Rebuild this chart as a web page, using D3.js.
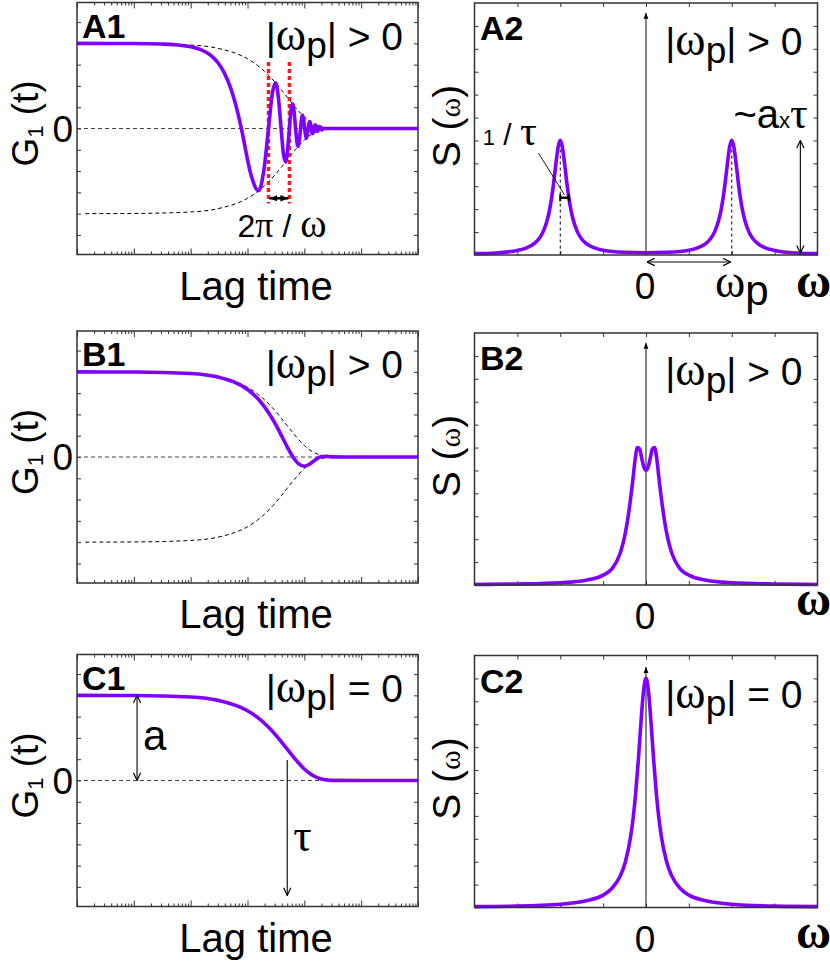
<!DOCTYPE html>
<html lang="en">
<head>
<meta charset="utf-8">
<title>G1(t) and S(w)</title>
<script src="https://d3js.org/d3.v7.min.js"></script>
<style>
  body { margin: 0; background: #fff; }
  svg text { font-family: "Liberation Sans", Arial, sans-serif; fill: #000; white-space: pre; }
  .greek { font-family: "Liberation Serif", "DejaVu Serif", serif; }
  .lbl { font-weight: bold; }
</style>
</head>
<body>
<script>

// ---- data ----
// lag time (log axis, arbitrary units) and G1(t)
var tA1 = [1, 10, 30, 50, 100, 150, 200, 250, 300, 390, 500, 600, 700, 780,
           1170, 1560, 1950, 2340, 2730, 3120, 3510, 3900, 4290, 4680, 5070, 5460,
           5850, 6240, 6630, 7020, 7410, 7800, 8190, 8580, 8970, 9360, 9750, 10140,
           10530, 10920, 11310, 11700, 12090, 12480, 12870, 13260, 13650, 14040, 14430, 14820,
           15210, 15600, 15990, 16380, 16770, 17160, 17550, 17940, 18330, 18720, 19110, 19500,
           19890, 20280, 20670, 21060, 25000, 1e6];
var gA1 = [1, 0.998, 0.992, 0.985, 0.96, 0.926, 0.884, 0.833, 0.775, 0.654, 0.484, 0.315, 0.139, 0,
           -0.559, -0.732, -0.479, 0, 0.409, 0.536, 0.351, 0, -0.300, -0.392, -0.257, 0,
           0.219, 0.287, 0.188, 0, -0.161, -0.210, -0.137, 0, 0.117, 0.154, 0.100, 0,
           -0.086, -0.113, -0.074, 0, 0.063, 0.082, 0.054, 0, -0.046, -0.060, -0.039, 0,
           0.034, 0.044, 0.029, 0, -0.025, -0.032, -0.021, 0, 0.018, 0.024, 0.016, 0,
           -0.012, -0.017, -0.011, 0, 0, 0];

var tB1 = [1, 10, 100, 316, 562, 1000, 1585, 2512, 3162, 3981, 5012, 6310, 7943,
           10000, 12589, 15849, 19953, 25119, 31623, 1e5, 1e6];
var gB1 = [1, 0.998, 0.98, 0.936, 0.885, 0.793, 0.673, 0.491, 0.376, 0.248, 0.117, 0, -0.081,
           -0.108, -0.081, -0.029, 0.005, 0.007, 0.001, 0, 0];

var tC1 = [1, 10, 100, 300, 1000, 1500, 2000, 2500, 3000, 4000, 5000, 6000, 7000, 8000,
           10000, 12500, 15000, 20000, 25000, 30000, 1e5, 1e6];
var gC1 = [1, 0.998, 0.98, 0.942, 0.819, 0.741, 0.67, 0.607, 0.549, 0.449, 0.368, 0.301, 0.247, 0.202,
           0.135, 0.082, 0.05, 0.018, 0.007, 0.002, 0, 0];

// dashed decay envelope (drawn as +/-)
var envT = [1.4, 10, 100, 300, 1000, 1500, 2000, 2500, 3000, 4000, 5000, 6000, 7000, 8000,
            10000, 12500, 15000, 20000, 25000, 30000, 40000];
var envG = [1, 0.998, 0.98, 0.942, 0.819, 0.741, 0.67, 0.607, 0.549, 0.449, 0.368, 0.301, 0.247, 0.202,
            0.135, 0.082, 0.05, 0.018, 0.007, 0.002, 0];

// frequency and S(w)
var wA2 = [-2, -1.75, -1.5, -1.4, -1.3, -1.25, -1.2, -1.15, -1.125, -1.1, -1.075, -1.05, -1.025,
           -1, -0.975, -0.95, -0.925, -0.9, -0.875, -0.85, -0.8, -0.75, -0.7, -0.6, -0.5, -0.25,
           0, 0.25, 0.5, 0.6, 0.7, 0.75, 0.8, 0.85, 0.875, 0.9, 0.925, 0.95, 0.975,
           1, 1.025, 1.05, 1.075, 1.1, 1.125, 1.15, 1.2, 1.25, 1.3, 1.4, 1.5, 1.75, 2];
var sA2 = [0.006, 0.009, 0.020, 0.030, 0.051, 0.070, 0.101, 0.155, 0.196, 0.251, 0.321, 0.401, 0.471,
           0.501, 0.471, 0.401, 0.321, 0.251, 0.196, 0.155, 0.101, 0.070, 0.051, 0.031, 0.021, 0.012,
           0.010, 0.012, 0.021, 0.031, 0.051, 0.070, 0.101, 0.155, 0.196, 0.251, 0.321, 0.401, 0.471,
           0.501, 0.471, 0.401, 0.321, 0.251, 0.196, 0.155, 0.101, 0.070, 0.051, 0.030, 0.020, 0.009, 0.006];

var wB2 = [-2, -1.5, -1, -0.7, -0.5, -0.4, -0.3, -0.25, -0.2, -0.15, -0.125, -0.1, -0.075, -0.05, -0.025,
           0, 0.025, 0.05, 0.075, 0.1, 0.125, 0.15, 0.2, 0.25, 0.3, 0.4, 0.5, 0.7, 1, 1.5, 2];
var sB2 = [0.0025, 0.0045, 0.010, 0.021, 0.043, 0.069, 0.14, 0.21, 0.32, 0.469, 0.553, 0.60, 0.594, 0.554, 0.515,
           0.50, 0.515, 0.554, 0.594, 0.60, 0.553, 0.469, 0.32, 0.21, 0.14, 0.069, 0.043, 0.021, 0.010, 0.0045, 0.0025];

var wC2 = [-2, -1.5, -1, -0.7, -0.5, -0.4, -0.3, -0.24, -0.18, -0.15, -0.12, -0.09, -0.06, -0.03,
           0, 0.03, 0.06, 0.09, 0.12, 0.15, 0.18, 0.24, 0.3, 0.4, 0.5, 0.7, 1, 1.5, 2];
var sC2 = [0.004, 0.006, 0.014, 0.029, 0.054, 0.083, 0.138, 0.2, 0.308, 0.39, 0.5, 0.64, 0.8, 0.941,
           1, 0.941, 0.8, 0.64, 0.5, 0.39, 0.308, 0.2, 0.138, 0.083, 0.054, 0.029, 0.014, 0.006, 0.004];

// axes
var tDomain = [1, 1e6];
var gDomain = [-1.48, 1.48];
var gTicks = [-1.25, -1, -0.75, -0.5, -0.25, 0, 0.25, 0.5, 0.75, 1, 1.25];
var wDomain = [-2, 2];
var sDomain = [0, 1.1];
var wTicks = [-1.5, -1, -0.5, 0, 0.5, 1, 1.5];
var sTicks = [0.1, 0.2, 0.3, 0.4, 0.5, 0.6, 0.7, 0.8, 0.9, 1.0];

// ---- layout ----
var LX = 77, LW = 341, RX = 474.5, RW = 343, PH = 252;
var topL = [2.5, 331, 654.5], topR = [3, 333, 655.5];
var purple = "#7f00ff";

var svg = d3.select("body").append("svg")
    .attr("width", 830)
    .attr("height", 965);

var defs = svg.append("defs");
defs.append("marker").attr("id", "open")
    .attr("viewBox", "0 0 10 10").attr("refX", 9.5).attr("refY", 5)
    .attr("markerWidth", 9).attr("markerHeight", 9)
    .attr("markerUnits", "userSpaceOnUse").attr("orient", "auto-start-reverse")
    .append("path").attr("d", "M1,1 L9.5,5 L1,9")
    .attr("fill", "none").attr("stroke", "#000").attr("stroke-width", 1.3);
defs.append("marker").attr("id", "solid")
    .attr("viewBox", "0 0 10 10").attr("refX", 10).attr("refY", 5)
    .attr("markerWidth", 6).attr("markerHeight", 6)
    .attr("markerUnits", "userSpaceOnUse").attr("orient", "auto-start-reverse")
    .append("path").attr("d", "M0,1 L10,5 L0,9 Z").attr("fill", "#000");
defs.append("marker").attr("id", "solidBig")
    .attr("viewBox", "0 0 10 10").attr("refX", 10).attr("refY", 5)
    .attr("markerWidth", 8).attr("markerHeight", 8)
    .attr("markerUnits", "userSpaceOnUse").attr("orient", "auto-start-reverse")
    .append("path").attr("d", "M0,1 L10,5 L0,9 Z").attr("fill", "#000");

// text with tspans: parts = [text, class, size, dy]
function rich(parent, x, y, parts, anchor, size) {
    var t = parent.append("text")
        .attr("x", x).attr("y", y)
        .attr("text-anchor", anchor || "start")
        .attr("font-size", size);
    parts.forEach(function(p) {
        var s = t.append("tspan").text(p[0]);
        if (p[1]) s.attr("class", p[1]);
        if (p[2]) s.attr("font-size", p[2]);
        if (p[3]) s.attr("dy", p[3]);
    });
    return t;
}

function line(g, x1, y1, x2, y2) {
    return g.append("line")
        .attr("x1", x1).attr("y1", y1).attr("x2", x2).attr("y2", y2)
        .attr("stroke", "#000").attr("stroke-width", 1.1);
}

function noDomain(sel) { sel.select(".domain").remove(); }

function leftPanel(top, name, title, tArr, gArr, withEnv) {
    var x = d3.scaleLog().domain(tDomain).range([LX, LX + LW]);
    var y = d3.scaleLinear().domain(gDomain).range([top + PH, top]);
    var g = svg.append("g");

    var all = x.ticks();
    var major = all.filter(function(d) { return Math.abs(Math.log10(d) % 1) < 1e-9; });
    var minor = all.filter(function(d) { return major.indexOf(d) < 0; });

    [[d3.axisBottom, top + PH], [d3.axisTop, top]].forEach(function(a) {
        g.append("g").attr("transform", "translate(0," + a[1] + ")").attr("color", "#333")
            .call(a[0](x).tickValues(major).tickSize(-6).tickFormat("")).call(noDomain);
        g.append("g").attr("transform", "translate(0," + a[1] + ")").attr("color", "#333")
            .call(a[0](x).tickValues(minor).tickSize(-3).tickFormat("")).call(noDomain);
    });
    g.append("g").attr("transform", "translate(" + LX + ",0)").attr("color", "#333")
        .call(d3.axisLeft(y).tickValues(gTicks).tickSize(-4).tickFormat("")).call(noDomain);
    g.append("g").attr("transform", "translate(" + (LX + LW) + ",0)").attr("color", "#333")
        .call(d3.axisRight(y).tickValues(gTicks).tickSize(-4).tickFormat("")).call(noDomain);

    // zero line
    g.append("line")
        .attr("x1", LX).attr("x2", LX + LW).attr("y1", y(0)).attr("y2", y(0))
        .attr("stroke", "#444").attr("stroke-width", 1).attr("stroke-dasharray", "4,3");

    var path = d3.line()
        .x(function(d) { return x(d[0]); })
        .y(function(d) { return y(d[1]); })
        .curve(d3.curveMonotoneX);

    if (withEnv) {
        [1, -1].forEach(function(s) {
            g.append("path")
                .datum(d3.zip(envT, envG.map(function(v) { return s * v; })))
                .attr("d", path)
                .attr("fill", "none").attr("stroke", "#000").attr("stroke-width", 1)
                .attr("stroke-dasharray", "4,3");
        });
    }

    var layer = g.append("g");

    g.append("path")
        .datum(d3.zip(tArr, gArr))
        .attr("d", path)
        .attr("fill", "none").attr("stroke", purple).attr("stroke-width", 3.6)
        .attr("stroke-linejoin", "round");

    g.append("rect")
        .attr("x", LX).attr("y", top).attr("width", LW).attr("height", PH)
        .attr("fill", "none").attr("stroke", "#333").attr("stroke-width", 1.5);

    g.append("text").attr("class", "lbl").attr("x", 82).attr("y", top + 35)
        .attr("font-size", 34).text(name);
    rich(g, LX + LW - 15, top + 47, title, "end", 39);

    g.append("text").attr("x", 73).attr("y", y(0)).attr("dy", "0.36em")
        .attr("text-anchor", "end").attr("font-size", 37).text("0");
    rich(g.append("g").attr("transform", "translate(38," + (top + 121) + ") rotate(-90)"),
        0, 0, [["G"], ["1", null, 22, 5], [" (t)", null, null, -5]], "middle", 37);
    g.append("text").attr("x", 256).attr("y", top + PH + 45)
        .attr("text-anchor", "middle").attr("font-size", 40).text("Lag time");

    return { g: g, layer: layer, x: x, y: y };
}

function rightPanel(top, name, title, wArr, sArr, arrowTop, omegaY) {
    var x = d3.scaleLinear().domain(wDomain).range([RX, RX + RW]);
    var y = d3.scaleLinear().domain(sDomain).range([top + PH, top]);
    var g = svg.append("g");

    g.append("g").attr("transform", "translate(0," + (top + PH) + ")").attr("color", "#333")
        .call(d3.axisBottom(x).tickValues(wTicks).tickSize(-4).tickFormat("")).call(noDomain);
    g.append("g").attr("transform", "translate(0," + top + ")").attr("color", "#333")
        .call(d3.axisTop(x).tickValues(wTicks).tickSize(-4).tickFormat("")).call(noDomain);
    g.append("g").attr("transform", "translate(" + RX + ",0)").attr("color", "#333")
        .call(d3.axisLeft(y).tickValues(sTicks).tickSize(-4).tickFormat("")).call(noDomain);
    g.append("g").attr("transform", "translate(" + (RX + RW) + ",0)").attr("color", "#333")
        .call(d3.axisRight(y).tickValues(sTicks).tickSize(-4).tickFormat("")).call(noDomain);

    // vertical arrow at w = 0
    g.append("line")
        .attr("x1", x(0)).attr("x2", x(0)).attr("y1", y(0)).attr("y2", y(arrowTop))
        .attr("stroke", "#222").attr("stroke-width", 1.1)
        .attr("marker-end", "url(#solid)");

    var layer = g.append("g");

    var path = d3.line()
        .x(function(d) { return x(d[0]); })
        .y(function(d) { return y(d[1]); })
        .curve(d3.curveMonotoneX);

    g.append("path")
        .datum(d3.zip(wArr, sArr))
        .attr("d", path)
        .attr("fill", "none").attr("stroke", purple).attr("stroke-width", 3.6)
        .attr("stroke-linejoin", "round");

    g.append("rect")
        .attr("x", RX).attr("y", top).attr("width", RW).attr("height", PH)
        .attr("fill", "none").attr("stroke", "#333").attr("stroke-width", 1.5);

    g.append("text").attr("class", "lbl").attr("x", 480).attr("y", top + 37)
        .attr("font-size", 34).text(name);
    rich(g, RX + RW - 15, top + 52, title, "end", 39);

    rich(g.append("g").attr("transform", "translate(460," + (top + 123) + ") rotate(-90)"),
        0, 0, [["S ("], ["ω", "greek", 30], [")"]], "middle", 39);

    g.append("text").attr("x", x(0) - 1).attr("y", top + PH + 44)
        .attr("text-anchor", "middle").attr("font-size", 37).text("0");
    g.append("text").attr("class", "greek").attr("x", 796).attr("y", omegaY)
        .attr("font-size", 48).attr("font-weight", "bold").text("ω");

    return { g: g, layer: layer, x: x, y: y };
}

var titleGt = [["|"], ["ω", "greek", 46], ["p", null, 37, 8], ["| > 0", null, null, -8]];
var titleEq = [["|"], ["ω", "greek", 46], ["p", null, 37, 8], ["| = 0", null, null, -8]];

// ---- row A ----
var a1 = leftPanel(topL[0], "A1", titleGt, tA1, gA1, true);
// period markers (zero crossings one period apart)
[2340, 5460].forEach(function(t) {
    a1.layer.append("line")
        .attr("x1", a1.x(t)).attr("x2", a1.x(t))
        .attr("y1", a1.y(0.78)).attr("y2", a1.y(-0.88))
        .attr("stroke", "#ff1a1a").attr("stroke-width", 3.5).attr("stroke-dasharray", "4,3");
});
line(a1.g, a1.x(2340) + 1, a1.y(-0.82), a1.x(5460) - 1, a1.y(-0.82))
    .attr("stroke-width", 2.5)
    .attr("marker-start", "url(#solidBig)").attr("marker-end", "url(#solidBig)");
rich(a1.g, 282, 237, [["2"], ["π", "greek", 36], [" / "], ["ω", "greek", 40]], "middle", 32);

var a2 = rightPanel(topR[0], "A2", titleGt, wA2, sA2, 1.057, 297);
[-1, 1].forEach(function(w) {
    a2.layer.append("line")
        .attr("x1", a2.x(w)).attr("x2", a2.x(w)).attr("y1", a2.y(0.46)).attr("y2", a2.y(0))
        .attr("stroke", "#000").attr("stroke-width", 1).attr("stroke-dasharray", "3,3");
});
// half width 1/tau
line(a2.g, a2.x(-1), a2.y(0.25), a2.x(-0.9), a2.y(0.25)).attr("stroke-width", 2.5);
line(a2.g, a2.x(-1), a2.y(0.25) - 3.5, a2.x(-1), a2.y(0.25) + 3.5).attr("stroke-width", 2);
line(a2.g, a2.x(-0.9), a2.y(0.25) - 3.5, a2.x(-0.9), a2.y(0.25) + 3.5).attr("stroke-width", 2);
line(a2.g, a2.x(-1.254), a2.y(0.445), a2.x(-0.95), a2.y(0.262)).attr("stroke-width", 0.9);
rich(a2.g, a2.x(-1.905), a2.y(0.48), [["1", null, 22], [" / ", null, 30], ["τ", "greek", 42]], "start", 30);
// peak height
line(a2.g, a2.x(1.8), a2.y(0.5), a2.x(1.8), a2.y(0.008))
    .attr("marker-start", "url(#open)").attr("marker-end", "url(#open)");
rich(a2.g, a2.x(1.02), a2.y(0.555), [["~a"], ["x", null, 22], ["τ", "greek", 44]], "start", 40);
// distance to peak
line(a2.g, a2.x(0) + 1, a2.y(0) + 7, a2.x(1) - 1, a2.y(0) + 7)
    .attr("marker-start", "url(#open)").attr("marker-end", "url(#open)");
rich(a2.g, 715, 297, [["ω", "greek", 46], ["p", null, 42, 8]], "start", 40);

// ---- row B ----
var b1 = leftPanel(topL[1], "B1", titleGt, tB1, gB1, true);
var b2 = rightPanel(topR[1], "B2", titleGt, wB2, sB2, 1.057, 615);

// ---- row C ----
var c1 = leftPanel(topL[2], "C1", titleEq, tC1, gC1, false);
line(c1.g, c1.x(11.4), c1.y(1), c1.x(11.4), c1.y(0))
    .attr("marker-start", "url(#open)").attr("marker-end", "url(#open)");
c1.g.append("text").attr("x", 143).attr("y", c1.y(0.36)).attr("font-size", 42).text("a");
line(c1.g, c1.x(5000), c1.y(0.24), c1.x(5000), c1.y(-1.35))
    .attr("marker-end", "url(#open)");
c1.g.append("text").attr("class", "greek").attr("x", c1.x(5000) + 6).attr("y", c1.y(-0.83))
    .attr("font-size", 46).text("τ");

var c2 = rightPanel(topR[2], "C2", titleEq, wC2, sC2, 1.05, 948);

</script>
</body>
</html>
